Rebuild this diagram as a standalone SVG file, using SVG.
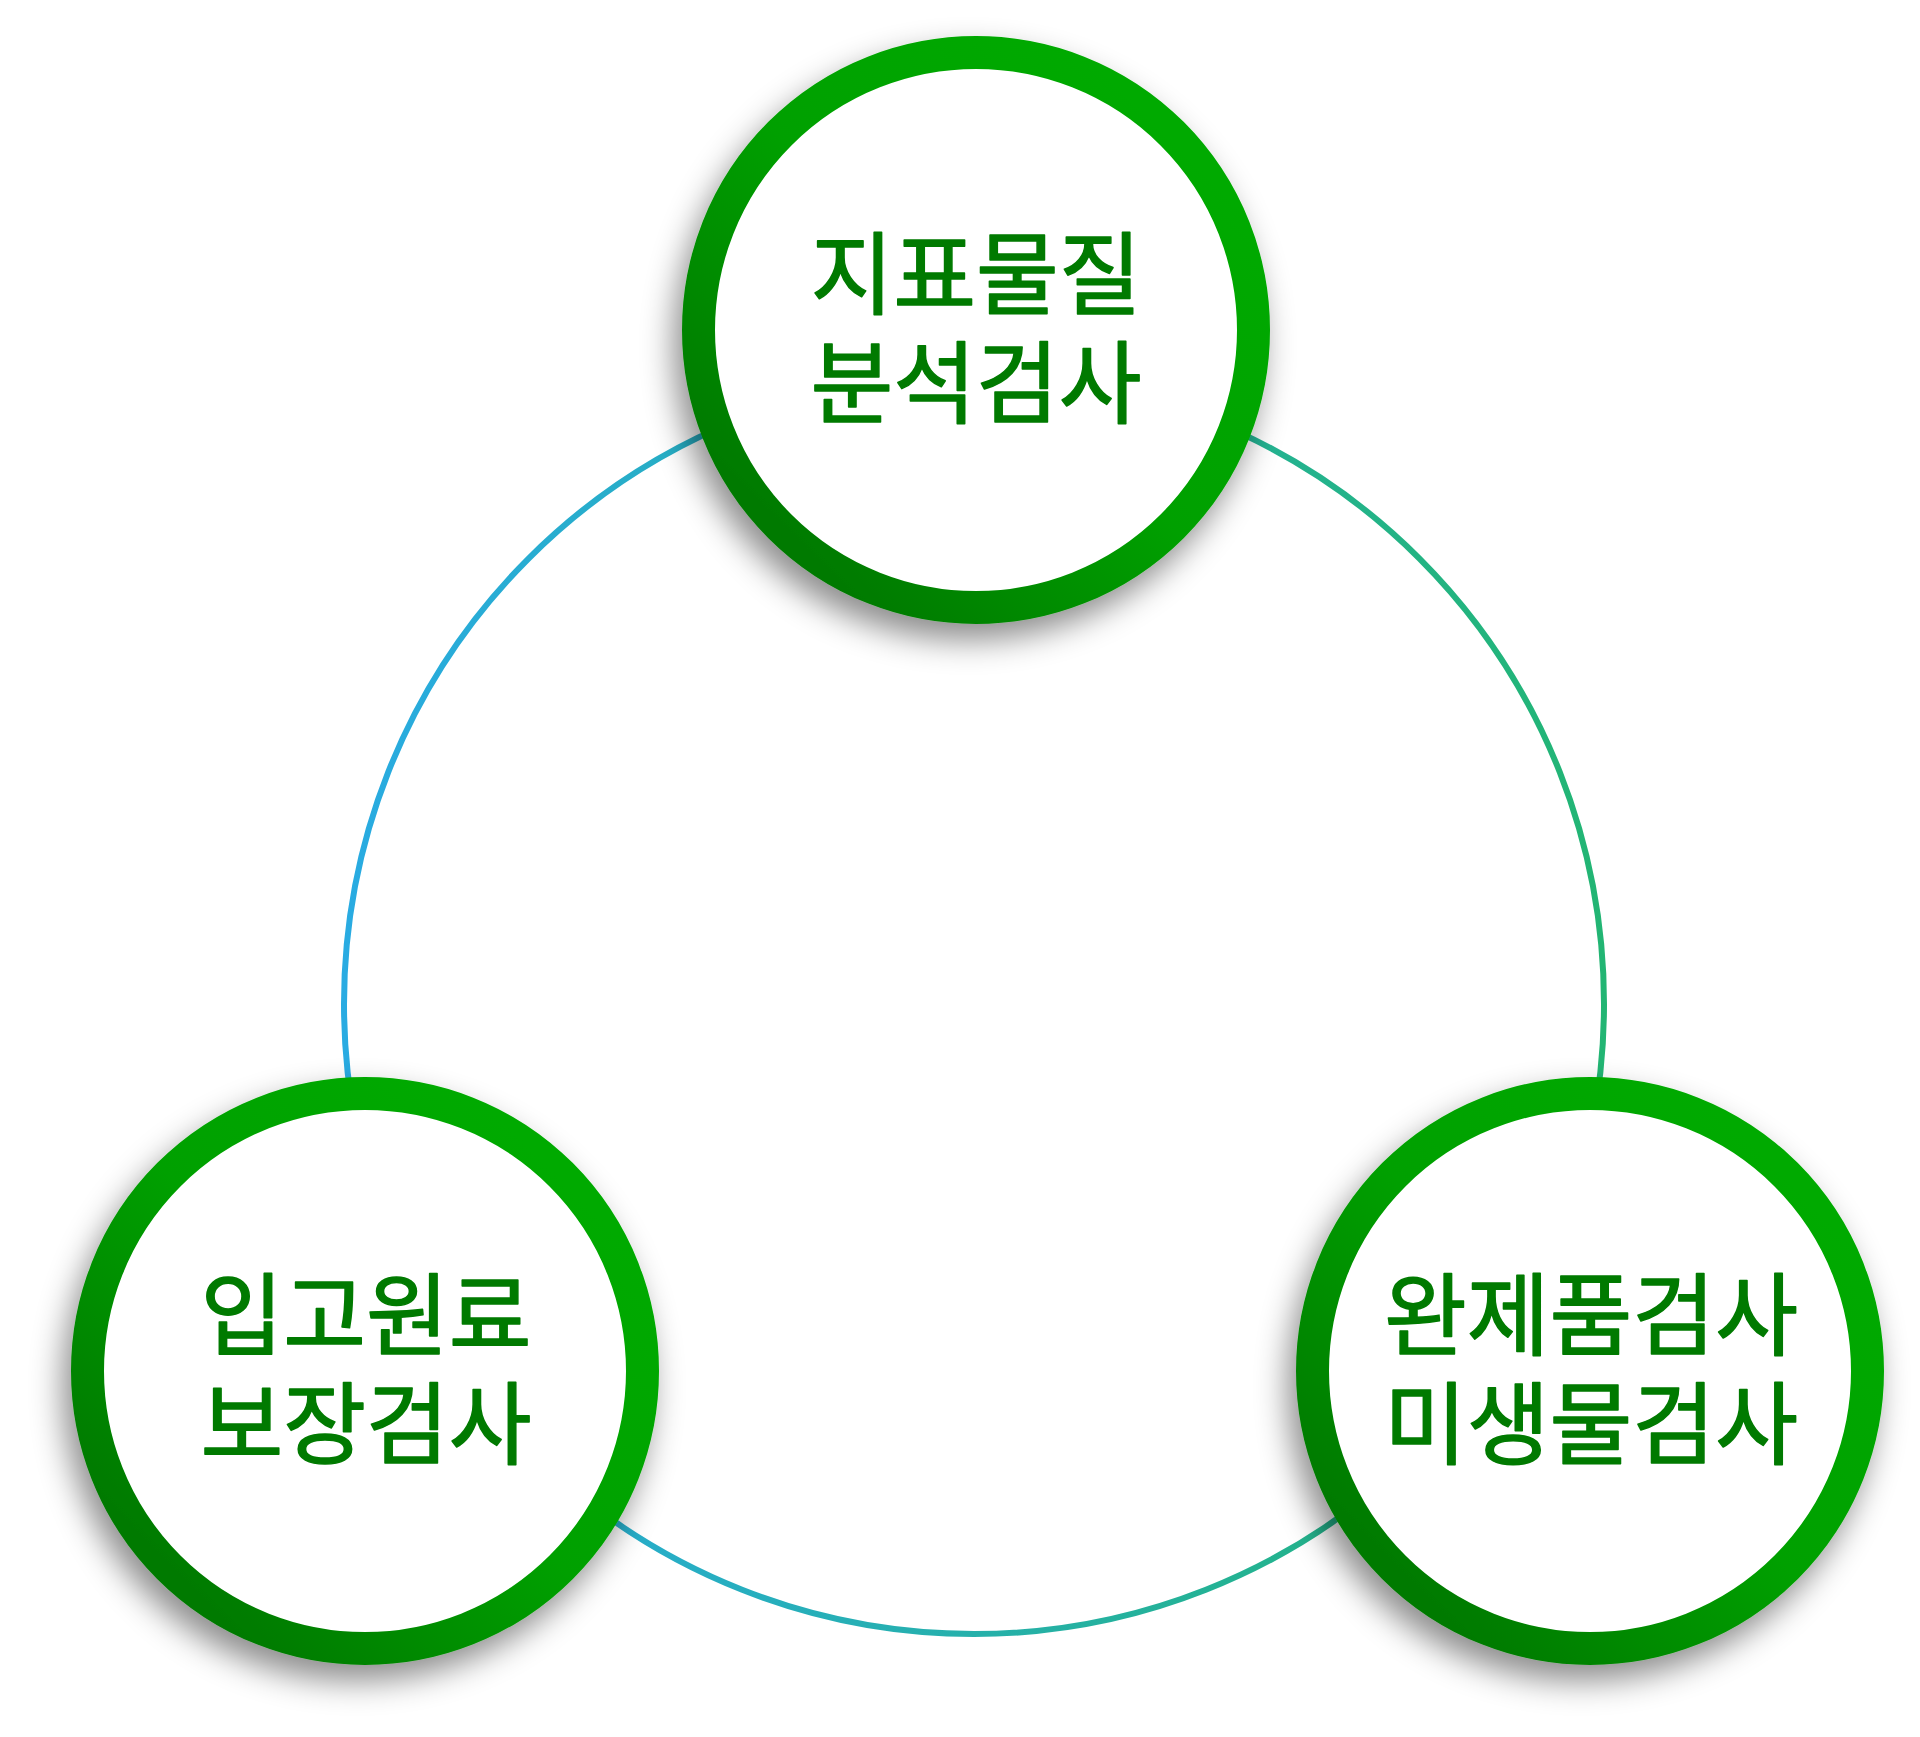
<svg xmlns="http://www.w3.org/2000/svg" width="1920" height="1737" viewBox="0 0 1920 1737">
  <defs>
    <linearGradient id="lineGrad" x1="0" y1="0" x2="1" y2="0">
      <stop offset="0" stop-color="#29ABE2"/>
      <stop offset="1" stop-color="#22B573"/>
    </linearGradient>
    <linearGradient id="ringGrad" x1="0.85" y1="0.15" x2="0.15" y2="0.85">
      <stop offset="0" stop-color="#00AA00"/>
      <stop offset="0.5" stop-color="#00A000"/>
      <stop offset="1" stop-color="#007A00"/>
    </linearGradient>
    <filter id="shadow" x="-30%" y="-30%" width="160%" height="160%">
      <feDropShadow dx="-8" dy="16" stdDeviation="16" flood-color="#000000" flood-opacity="0.45"/>
    </filter>
    <style>
      .ring { fill: #FFFFFF; stroke: url(#ringGrad); stroke-width: 33; filter: url(#shadow); }
      .label { font-family: "Noto Sans CJK KR", "Noto Sans", sans-serif; font-weight: 400; font-size: 90px; fill: #007A00; stroke: #007A00; stroke-width: 1.5; stroke-linejoin: round; text-anchor: middle; }
      .conn { fill: none; stroke: url(#lineGrad); stroke-width: 6; }
    </style>
  </defs>
  <rect width="1920" height="1737" fill="#FFFFFF"/>
  <g id="connectors">
    <circle class="conn" cx="974" cy="1004" r="630"/>
  </g>
  <g id="node-top">
    <circle class="ring" cx="976" cy="330" r="277.5"/>
    <text class="label"><tspan x="976" y="307">지표물질</tspan><tspan x="976" y="416">분석검사</tspan></text>
  </g>
  <g id="node-left">
    <circle class="ring" cx="365" cy="1371" r="277.5"/>
    <text class="label"><tspan x="366" y="1348">입고원료</tspan><tspan x="366" y="1457">보장검사</tspan></text>
  </g>
  <g id="node-right">
    <circle class="ring" cx="1590" cy="1371" r="277.5"/>
    <text class="label"><tspan x="1591" y="1348">완제품검사</tspan><tspan x="1591" y="1457">미생물검사</tspan></text>
  </g>
</svg>
